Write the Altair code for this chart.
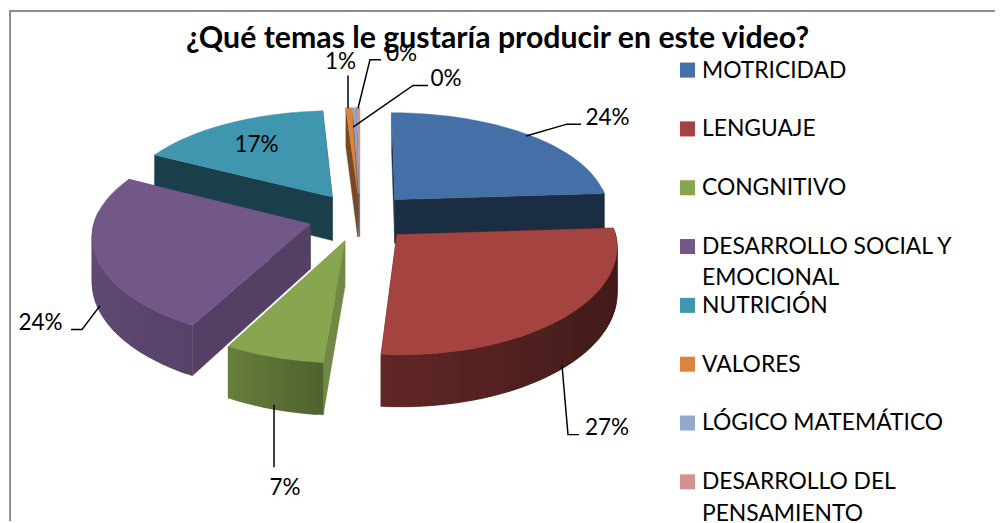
import math
import numpy as np
import altair as alt

# ---- data
categories = ["MOTRICIDAD", "LENGUAJE", "CONGNITIVO", "DESARROLLO SOCIAL Y\nEMOCIONAL", "NUTRICIÓN",
              "VALORES", "LÓGICO MATEMÁTICO", "DESARROLLO DEL\nPENSAMIENTO"]
values = [24.0, 27.3, 6.6, 24.7, 16.4, 0.5, 0.25, 0.25]
colors = ["#4470A7", "#A54341", "#88A54F", "#725789", "#4096AF", "#DB843D", "#93A9CF", "#D19392"]
cut_shade = [0.40, 0.40, 0.83, 0.73, 0.42, 0.55, 0.6, 0.7]
paint_order = [7, 6, 5, 4, 3, 0, 2, 1]
title_text = "¿Qué temas le gustaría producir en este video?"
label_text = ["24%", "27%", "7%", "24%", "17%", "1%", "0%", "0%"]
label_x = [607.5, 607, 285, 40.5, 256.5, 340.5, 401.5, 446]
label_y = [123.5, 436, 497, 331, 151, 67, 59, 85]
leaders = [
    [(526, 135), (567, 123), (581, 123)],
    [(562, 366), (568, 436), (579, 436)],
    [(274, 406), (274, 469)],
    [(100, 306), (82, 330), (71, 330)],
    [(348, 107), (348, 74)],
    [(358, 107), (370, 58), (381, 58)],
    [(353, 126), (413, 84), (428, 84)],
]

# The page is 8px wider than the window once the chart reaches its right edge.
XS, YS = 1011 / 1003, 1.0
FS = 1.01

# ---- 3-D pie geometry
CX, CY, AX, AY, PERSP_X, PERSP_Y, EXPLODE, DEPTH = 360, 216.5, 215, 102, 0.10, 0.12, 0.24, 45


def P(x, y):
    return [x * XS, y * YS]


def project(u, v, z=0.0):
    sx = 1 / (1 + PERSP_X * v)
    sy = 1 / (1 + PERSP_Y * v)
    return P(CX + AX * u * sx, CY - AY * v * sy + z * DEPTH * sy)


def shade(hex_color, f):
    r, g, b = [int(hex_color[i:i + 2], 16) for i in (1, 3, 5)]
    return "#%02x%02x%02x" % (round(r * f), round(g * f), round(b * f))


def rim_factor(deg):
    return float(np.interp(deg, [90, 130, 183, 208, 250, 300], [.41, .43, .58, .76, .85, .9]))


def feature(coords, color):
    return {"type": "Feature", "properties": {"c": color},
            "geometry": {"type": "Polygon", "coordinates": [coords + [coords[0]]]}}


total = sum(values)
edges = np.cumsum([0] + values) / total * 360
features = []
for i in paint_order:
    a0, a1 = edges[i], edges[i + 1]
    mid = math.radians((a0 + a1) / 2)
    ox, oy = EXPLODE * math.sin(mid), EXPLODE * math.cos(mid)
    n = max(2, int((a1 - a0) / 1.5) + 1)
    degs = np.linspace(a0, a1, n)
    pts = [(ox + math.sin(math.radians(d)), oy + math.cos(math.radians(d))) for d in degs]
    cut = shade(colors[i], cut_shade[i])
    faces = [(ox, oy, pts[0]), (ox, oy, pts[-1])]
    faces.sort(key=lambda f: -f[2][1])
    for fx, fy, p in faces:
        features.append(feature([project(fx, fy), project(*p), project(*p, 1), project(fx, fy, 1)], cut))
    for k in range(n - 1):
        dm = (degs[k] + degs[k + 1]) / 2
        if math.cos(math.radians(dm)) < 0.12:
            nxt = min(k + 2, n - 1)  # strips overlap so no seam shows
            arc = pts[k:nxt + 1]
            features.append(feature([project(*p) for p in arc] + [project(*p, 1) for p in reversed(arc)],
                                    shade(colors[i], rim_factor(dm))))
    features.append(feature([project(ox, oy)] + [project(*p) for p in pts], colors[i]))

PROJ = dict(type="identity", scale=1, translate=[-8, -8])
FONT = "Lato"

pie = (alt.Chart(alt.Data(values=features, format=alt.DataFormat(type="json")))
       .mark_geoshape(strokeWidth=0.4)
       .encode(fill=alt.Fill("properties.c:N", scale=None),
               stroke=alt.Stroke("properties.c:N", scale=None))
       .project(**PROJ))


def line(pts):
    return {"type": "Feature", "properties": {},
            "geometry": {"type": "LineString", "coordinates": [P(*p) for p in pts]}}


leader_layer = (alt.Chart(alt.Data(values=[line(p) for p in leaders], format=alt.DataFormat(type="json")))
                .mark_geoshape(filled=False, stroke="#000000", strokeWidth=1.5)
                .project(**PROJ))
border_layer = (alt.Chart(alt.Data(values=[line([(10, 523), (10, 9), (1003, 9)])],
                                   format=alt.DataFormat(type="json")))
                .mark_geoshape(filled=False, stroke="#8c8c8c", strokeWidth=2)
                .project(**PROJ))

# legend
LEG_X, LEG_Y0, LEG_STEP, LINE_H = 702, 76, 59.3, 31.5
legend_squares, legend_rows = [], []
for i, (name, col) in enumerate(zip(categories, colors)):
    base = LEG_Y0 + i * LEG_STEP
    sx, sy = P(687.5, base - 7.5)
    legend_squares.append({"lon": sx, "lat": sy, "c": col})
    for j, part in enumerate(name.split("\n")):
        tx, ty = P(LEG_X, base + j * LINE_H)
        legend_rows.append({"lon": tx, "lat": ty, "t": part})

squares = (alt.Chart(alt.Data(values=legend_squares))
           .mark_square(size=230, opacity=1, strokeWidth=0)
           .encode(longitude="lon:Q", latitude="lat:Q", fill=alt.Fill("c:N", scale=None))
           .project(**PROJ))
legend_text = (alt.Chart(alt.Data(values=legend_rows))
               .mark_text(font=FONT, fontSize=22.8 * FS, align="left", baseline="alphabetic", color="#000000")
               .encode(longitude="lon:Q", latitude="lat:Q", text="t:N")
               .project(**PROJ))
tx, ty = P(497.5, 46)
title_layer = (alt.Chart(alt.Data(values=[{"lon": tx, "lat": ty, "t": title_text}]))
               .mark_text(font=FONT, fontSize=30.2 * FS, fontWeight="bold", align="center", baseline="alphabetic",
                          color="#000000")
               .encode(longitude="lon:Q", latitude="lat:Q", text="t:N")
               .project(**PROJ))
labels = (alt.Chart(alt.Data(values=[{"lon": P(x, y)[0], "lat": P(x, y)[1], "t": t}
                                     for x, y, t in zip(label_x, label_y, label_text)]))
          .mark_text(font=FONT, fontSize=22.5 * FS, align="center", baseline="alphabetic", color="#000000")
          .encode(longitude="lon:Q", latitude="lat:Q", text="t:N")
          .project(**PROJ))

chart = (alt.layer(border_layer, pie, leader_layer, squares, legend_text, title_layer, labels)
         .properties(width=995, height=515, padding=0, background="#ffffff")
         .configure_view(stroke=None))
chart.save("out.html", embed_options={"renderer": "svg", "actions": False})
